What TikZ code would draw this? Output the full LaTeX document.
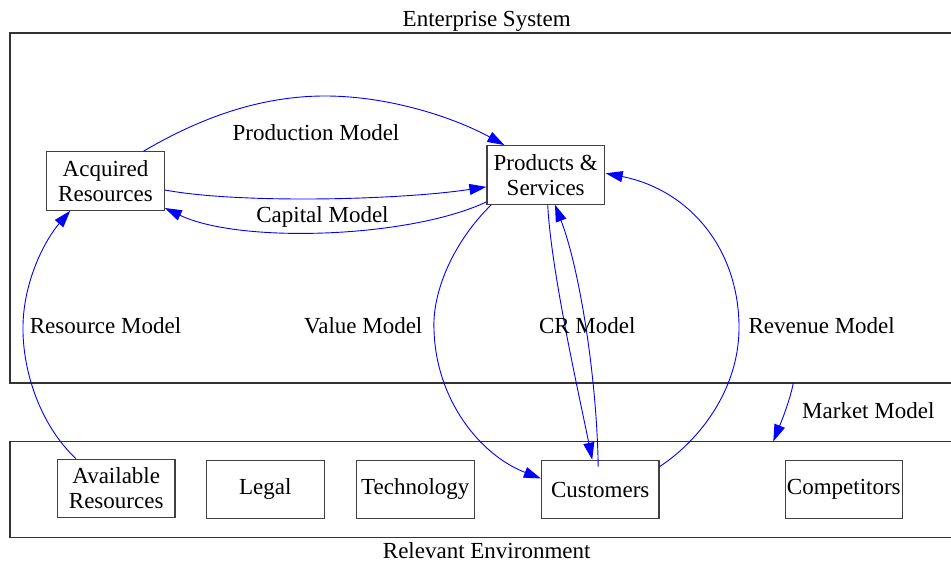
\documentclass[tikz,border=0pt]{standalone}
\usepackage{fontspec}
\setmainfont{Liberation Serif}
\usetikzlibrary{arrows.meta,calc}
\begin{document}
\begin{tikzpicture}[x=1pt,y=-1pt,
  box/.style={draw=black!75, line width=1.1pt, minimum width=117.5pt, minimum height=58.5pt, inner sep=0pt, align=center, font=\fontsize{23}{25}\selectfont},
  lbl/.style={inner sep=0pt, anchor=base, font=\fontsize{23}{25}\selectfont},
  edge/.style={draw=blue, line width=0.9pt, -{Triangle[length=17pt,width=11pt]}},
  cluster/.style={draw=black!80, line width=1.1pt}]
\useasboundingbox (0,0) rectangle (951,564);
\fill[white] (0,0) rectangle (951,564);
% clusters
\draw[cluster] (951,33) -- (10,33) -- (10,383) -- (951,383);
\draw[cluster] (951,441.5) -- (10,441.5) -- (10,537.7) -- (951,537.7);
\node[lbl] (ttlent) at (486.7,26.7) {Enterprise System};
\node[lbl] (ttlenv) at (486.7,558) {Relevant Environment};
% nodes
\node[box] (acq) at (105.5,181) {Acquired\\Resources};
\node[box] (prod) at (545.7,174.9) {Products \&\\Services};
\node[box] (avail) at (116.2,488.4) {Available\\Resources};
\node[box] (legal) at (265.3,489.5) {Legal};
\node[box] (tech) at (415.3,489.5) {Technology};
\node[box] (cust) at (600.2,489.5) {Customers};
\node[box] (comp) at (843.8,489.5) {Competitors};
% edges
\draw[edge] ($(acq.north)+(38,0)$) .. controls (200,118) and (260,96) .. (325,96)
  .. controls (390,96) and (455,118) .. ($(prod.north west)+(18,0)$);
\draw[edge] ($(acq.east)+(0,9)$) .. controls (240,204) and (400,200) .. ($(prod.west)+(0,12)$);
\draw[edge] ($(prod.west)+(0,27)$) .. controls (410,238) and (240,244) .. ($(acq.east)+(0,27)$);
\draw[edge] ($(avail.north west)+(19,0)$) .. controls (40,425) and (22,370) .. (23,325)
  .. controls (24,280) and (45,240) .. ($(acq.south west)+(24,0)$);
\draw[edge] ($(prod.south west)+(5,0)$) .. controls (455,240) and (432,290) .. (434,330)
  .. controls (436,400) and (480,455) .. ($(cust.west)+(0,-11)$);
\draw[edge] ($(prod.south)+(2,0)$) .. controls (551,270) and (578,390) .. ($(cust.north)+(-8,0)$);
\draw[edge] ($(cust.north)+(-2,7)$) .. controls (597,380) and (580,270) .. ($(prod.south)+(9.3,0)$);
\draw[edge] ($(cust.north east)+(0,7)$) .. controls (700,440) and (738,390) .. (739,330)
  .. controls (740,250) and (690,190) .. ($(prod.east)+(0.7,-1.6)$);
\coordinate (mkA) at (793.3,383);
\coordinate (mkB) at (773.3,441.5);
\draw[edge] (mkA) .. controls (790,400) and (782,420) .. (mkB);
% labels
\node[lbl] (lprod) at (316,140.7) {Production Model};
\node[lbl] (lcap) at (322.5,222.7) {Capital Model};
\node[lbl] (lres) at (105.5,333.7) {Resource Model};
\node[lbl] (lval) at (363.3,333.7) {Value Model};
\node[lbl] (lcr) at (587.3,333.7) {CR Model};
\node[lbl] (lrev) at (821.7,333.7) {Revenue Model};
\node[lbl] (lmkt) at (868.3,418.7) {Market Model};
\end{tikzpicture}
\end{document}
